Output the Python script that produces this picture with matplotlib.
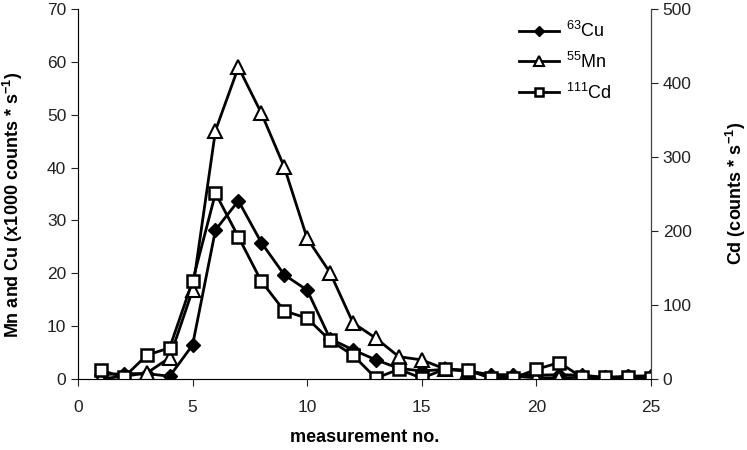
import matplotlib.pyplot as plt

plt.rcParams['font.family'] = ['Liberation Sans', 'DejaVu Sans']
plt.rcParams['mathtext.default'] = 'regular'

# datos
medicion = list(range(1, 26))
cu = [0.8, 1.0, 1.0, 0.5, 6.4, 28.2, 33.7, 25.8, 19.7, 16.8, 7.6, 5.5, 3.6,
      2.0, 1.5, 1.8, 1.5, 0.8, 0.8, 0.7, 0.8, 0.7, 0.3, 0.5, 0.6]
mn = [0.0, 0.5, 1.1, 4.0, 16.8, 47.0, 59.0, 50.3, 40.1, 26.6, 20.1, 10.6, 7.7,
      4.2, 3.6, 1.9, 1.5, 0.6, 0.5, 0.2, 0.2, 0.3, 0.2, 0.3, 0.3]
cd = [12, 2, 32, 42, 132, 251, 192, 132, 92, 82, 52, 32, 1,
      13, 1, 13, 12, 1, 1, 13, 22, 2, 2, 2, 1]

fig = plt.figure(figsize=(7.47, 4.5), dpi=100)
ax = fig.add_axes([0.1044, 0.158, 0.767, 0.822])
ax2 = ax.twinx()

l1, = ax.plot(medicion, cu, color='black', lw=2, marker='D', ms=7,
              mfc='black', mec='black', label='$^{63}$Cu')
l2, = ax.plot(medicion, mn, color='black', lw=2, marker='^', ms=10,
              mfc='white', mec='black', mew=1.5, label='$^{55}$Mn')
l3, = ax2.plot(medicion, cd, color='black', lw=2, marker='s', ms=8.5,
               mfc='white', mec='black', mew=1.8, label='$^{111}$Cd')

ax.set_xlim(0, 25)
ax.set_ylim(0, 70)
ax2.set_ylim(0, 500)
ax.set_xticks([0, 5, 10, 15, 20, 25])
ax.set_yticks(range(0, 71, 10))
ax2.set_yticks(range(0, 501, 100))

for a in (ax, ax2):
    a.spines['top'].set_visible(False)
    a.tick_params(direction='out', length=5, labelsize=12.5, colors='#222222')
ax.spines['left'].set_color('#777777')
ax.spines['bottom'].set_color('#777777')
ax2.spines['right'].set_color('#444444')
ax.tick_params(axis='x', pad=10)

ax.set_xlabel('measurement no.', fontsize=13, fontweight='bold', labelpad=10)
ax.set_ylabel('Mn and Cu (x1000 counts * s$^{-1}$)', fontsize=13,
              fontweight='bold')
ax.yaxis.set_label_coords(-0.093, 0.47)
ax2.set_ylabel('Cd (counts * s$^{-1}$)', fontsize=13, fontweight='bold')
ax2.yaxis.set_label_coords(1.128, 0.5)

leg = ax2.legend(handles=[l1, l2, l3], loc='upper left',
                 bbox_to_anchor=(0.673, 0.99), bbox_transform=fig.transFigure,
                 frameon=False, fontsize=13, handlelength=2.2, markerscale=0.75,
                 labelspacing=0.6, handletextpad=0.4)

fig.savefig('out.png', dpi=100)
